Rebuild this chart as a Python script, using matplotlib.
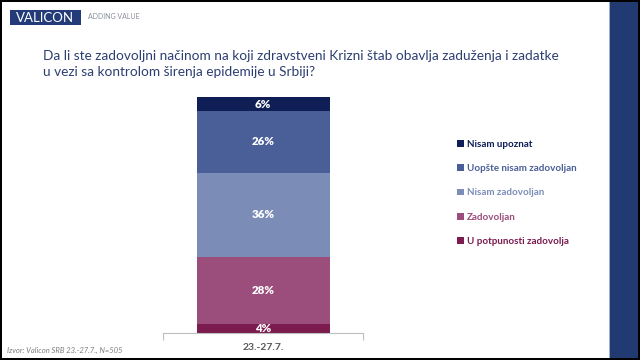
import matplotlib
matplotlib.use("Agg")
import matplotlib.pyplot as plt
from matplotlib.patches import Rectangle

categories = ["23.-27.7."]
series_names = ["U potpunosti zadovolja", "Zadovoljan", "Nisam zadovoljan",
                "Uopšte nisam zadovoljan", "Nisam upoznat"]
values = [4, 28, 36, 26, 6]
colors = ["#7B1B4E", "#9B4D7B", "#7B8DB7", "#4A5F97", "#0F1F56"]

title = ("Da li ste zadovoljni načinom na koji zdravstveni Krizni štab obavlja zaduženja i zadatke\n"
         "u vezi sa kontrolom širenja epidemije u Srbiji?")
source = "Izvor: Valicon SRB 23.-27.7., N=505"

plt.rcParams['font.family'] = ['Lato', 'DejaVu Sans']

W, H = 640, 360
fig = plt.figure(figsize=(6.4, 3.6), dpi=100)
fig.patch.set_facecolor("white")

def px(x0, y0, w, h):
    # top-left pixel coords -> figure fraction rect
    return [x0 / W, 1 - (y0 + h) / H, w / W, h / H]

def frect(x0, y0, w, h, color, z=5):
    fig.patches.append(Rectangle((x0 / W, 1 - (y0 + h) / H), w / W, h / H,
                                 transform=fig.transFigure, facecolor=color,
                                 edgecolor="none", zorder=z))

# frame decorations
frect(610, 0, 28, 360, "#213A72")
frect(609, 0, 1, 360, "#9FB0D6")
frect(0, 0, 640, 2, "black", 6)
frect(0, 358, 640, 2, "black", 6)
frect(0, 0, 2, 360, "black", 6)
frect(638, 0, 2, 360, "black", 6)

# logo
frect(10, 10, 71, 15, "#233B78")
fig.text(45.5 / W, 1 - 17.5 / H, "VALICON", color="white", fontsize=9.5, ha="center",
         va="center", zorder=6)
fig.text(88 / W, 1 - 16.5 / H, "ADDING VALUE", color="#8A8F9A", fontsize=5, ha="left",
         va="center")

# title
fig.text(43 / W, 1 - 64 / H, title, color="#2C3F73", fontsize=9.85, ha="left", va="center",
         linespacing=1.35)

# chart
ax = fig.add_axes(px(163, 97, 200, 236))
bottom = 0
handles = []
for name, v, c in zip(series_names, values, colors):
    b = ax.bar(categories, [v], bottom=[bottom], width=0.665, color=c, label=name)
    handles.append(b)
    ax.text(0, bottom + v / 2, f"{v}%", color="white", fontsize=8.3, fontweight="heavy",
            ha="center", va="center")
    bottom += v
ax.set_xlim(-0.5, 0.5)
ax.set_ylim(0, 100)
for s in ["top", "right", "left"]:
    ax.spines[s].set_visible(False)
ax.spines["bottom"].set_color("#BFBFBF")
ax.spines["bottom"].set_linewidth(0.8)
ax.set_yticks([])
ax.set_xticks([-0.5, 0.5], minor=False)
ax.set_xticklabels(["", ""])
ax.tick_params(axis="x", direction="out", length=5, color="#BFBFBF", width=0.8)
ax.text(0, -6, categories[0], ha="center", va="center", fontsize=7.5,
        fontweight="bold", color="#595959", transform=ax.transData, clip_on=False)

# legend
leg = fig.legend(handles[::-1], series_names[::-1], loc="upper left",
                 bbox_to_anchor=(448 / W, 1 - 131 / H), frameon=False,
                 handlelength=0.7, handleheight=0.7, handletextpad=0.3,
                 labelspacing=1.55, labelcolor=colors[::-1],
                 prop={"weight": "bold", "size": 7.1})

# source
fig.text(7 / W, 1 - 350 / H, source, fontsize=5.5, style="italic", color="#7F7F7F",
         ha="left", va="center")

fig.savefig("out.png", dpi=100)
